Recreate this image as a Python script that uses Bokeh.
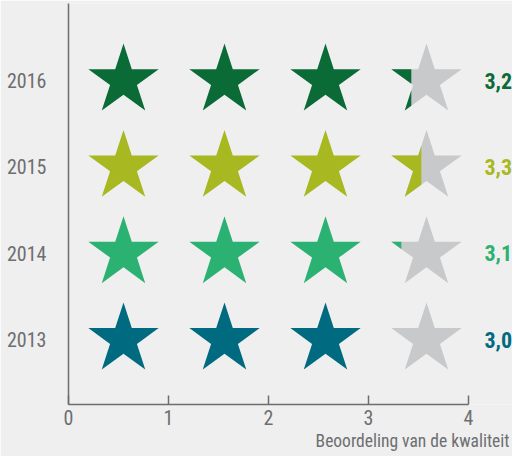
import math
from bokeh.plotting import figure
from bokeh.models import FixedTicker, Range1d, Title
from bokeh.core.properties import value
from bokeh.embed import file_html
from bokeh.resources import INLINE

# ---- data ----
years = ["2013", "2014", "2015", "2016"]
scores = [3.0, 3.1, 3.3, 3.2]
score_labels = ["3,0", "3,1", "3,3", "3,2"]
colors = ["#006a80", "#2bb273", "#a8b820", "#0b6b37"]
x_ticks = [0, 1, 2, 3, 4]
x_title = "Beoordeling van de kwaliteit"

# ---- layout constants ----
BG = "#efefef"
GREY = "#c8c9cb"
AXIS = "#6d6d6d"
TXT = "#6d6e70"
FONT = "Roboto Condensed, DejaVu Sans Condensed, Roboto"
W, H = 512, 456
ML, MB, MT, MR = 68, 52, 3, 0
FRAME_W, FRAME_H = W - ML - MR, H - MT - MB
X0, X1 = 0.0, 4.44
Y0, Y1 = -0.753, 3.893
SX = FRAME_W / (X1 - X0)
SY = FRAME_H / (Y1 - Y0)
R = 37.0  # star outer radius, px
STAR_X = [0.55, 1.56, 2.57, 3.58]
N_STARS = 4


def star(cx, cy):
    pts = []
    for k in range(10):
        ang = math.radians(90 + 36 * k)
        rr = R if k % 2 == 0 else R * 0.381966
        pts.append((cx + rr * math.cos(ang) / SX, cy + rr * math.sin(ang) / SY))
    return pts


def clip_left(pts, xc):
    out = []
    n = len(pts)
    for i in range(n):
        cur, prev = pts[i], pts[i - 1]
        cin, pin = cur[0] <= xc, prev[0] <= xc

        def inter():
            t = (xc - prev[0]) / (cur[0] - prev[0])
            return (xc, prev[1] + t * (cur[1] - prev[1]))
        if cin:
            if not pin:
                out.append(inter())
            out.append(cur)
        elif pin:
            out.append(inter())
    return out


p = figure(width=W, height=H, output_backend="svg",
           toolbar_location=None, x_range=Range1d(X0, X1), y_range=Range1d(Y0, Y1),
           min_border_left=ML, min_border_right=MR, min_border_top=MT, min_border_bottom=MB,
           background_fill_color=BG, border_fill_color=BG, outline_line_color=None)
p.grid.visible = False

xs_c, ys_c, fc = [], [], []
xs_g, ys_g = [], []
xs_p, ys_p, pc = [], [], []
for i, (s, col) in enumerate(zip(scores, colors)):
    full = int(math.floor(s + 1e-9))
    frac = round(s - full, 3)
    for j in range(N_STARS):
        pts = star(STAR_X[j], i)
        if j < full:
            xs_c.append([q[0] for q in pts]); ys_c.append([q[1] for q in pts]); fc.append(col)
        else:
            xs_g.append([q[0] for q in pts]); ys_g.append([q[1] for q in pts])
            if j == full and frac > 0:
                left = min(q[0] for q in pts)
                cp = clip_left(pts, left + frac)
                xs_p.append([q[0] for q in cp]); ys_p.append([q[1] for q in cp]); pc.append(col)

p.patches(xs_c, ys_c, fill_color=fc, line_color=None)
p.patches(xs_g, ys_g, fill_color=GREY, line_color=None)
p.patches(xs_p, ys_p, fill_color=pc, line_color=None)

p.text(x=[4.16] * len(years), y=list(range(len(years))), text=score_labels,
       text_color=colors, text_font=value(FONT), text_font_style="bold",
       text_font_size="22px", text_align="left", text_baseline="middle")

# axes
xa = p.xaxis[0]
xa.ticker = FixedTicker(ticks=x_ticks)
xa.bounds = (0, 4)
xa.major_tick_in = 9
xa.major_tick_out = 0
xa.minor_tick_line_color = None
xa.axis_line_color = AXIS
xa.axis_line_width = 1.5
xa.major_tick_line_color = AXIS
xa.major_tick_line_width = 1.5
xa.major_label_text_font = FONT
xa.major_label_text_font_size = "20px"
xa.major_label_text_color = TXT
xa.major_label_standoff = 5

ya = p.yaxis[0]
ya.ticker = FixedTicker(ticks=list(range(len(years))))
ya.major_label_overrides = {i: y for i, y in enumerate(years)}
ya.major_tick_in = 0
ya.major_tick_out = 0
ya.minor_tick_line_color = None
ya.axis_line_color = AXIS
ya.axis_line_width = 1.5
ya.major_label_text_font = FONT
ya.major_label_text_font_size = "20px"
ya.major_label_text_color = TXT
ya.major_label_standoff = 22

p.add_layout(Title(text=x_title, align="right", text_font=FONT, text_font_size="17.5px",
                   text_font_style="normal", text_color=TXT, standoff=2, offset=3),
             "below")

open("out.html", "w").write(file_html(p, INLINE))
